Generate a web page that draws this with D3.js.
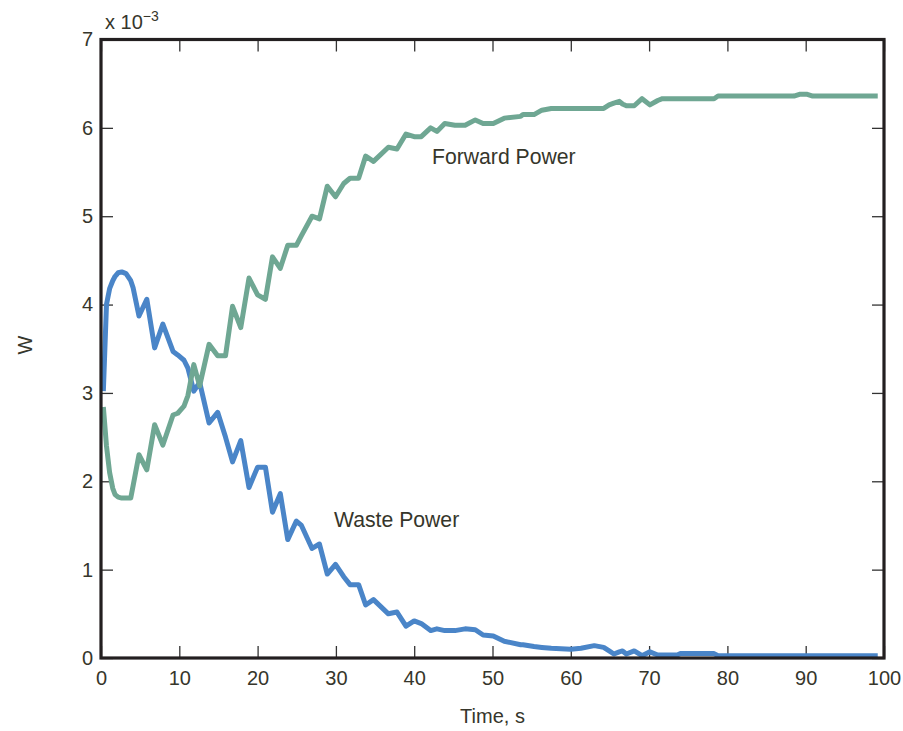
<!DOCTYPE html>
<html>
<head>
<meta charset="utf-8">
<script src="https://cdn.jsdelivr.net/npm/d3@7"></script>
<style>
  body { margin: 0; background: #fff; }
  text { font-family: "Liberation Sans", Arial, Helvetica, sans-serif; fill: #36362b; }
</style>
</head>
<body>
<div id="chart"></div>
<script>
// sample times (s) shared by both series
const time = [0.3, 0.7, 1.1, 1.5, 1.8, 2.2, 2.65, 3.2, 3.8, 4.1, 4.85, 5.85, 6.85, 7.9, 9.2, 9.8,
  10.6, 11.1, 11.85, 12.6, 13.8, 14.9, 15.9, 16.8, 17.85, 18.9, 20.0, 21.0, 21.9, 22.9, 23.85,
  24.95, 25.6, 26.95, 27.9, 28.9, 29.95, 31.0, 31.8, 32.9, 33.8, 34.8, 36.7, 37.8, 38.95, 40.0,
  40.9, 42.1, 42.9, 43.9, 45.2, 46.5, 47.8, 48.8, 50.1, 51.5, 53.6, 53.9, 55.3, 56.3, 57.5, 60.0,
  61.3, 63.0, 64.2, 64.9, 65.5, 66.2, 66.6, 67.1, 68.1, 69.1, 70.1, 71.1, 71.7, 73.6, 74.0, 78.3,
  78.8, 88.5, 89.2, 90.2, 90.9, 99.2];

// values in units of 1e-3 W
const forwardPower = [2.84, 2.40, 2.10, 1.92, 1.85, 1.82, 1.81, 1.81, 1.81, 1.95, 2.30, 2.13, 2.64, 2.41, 2.75, 2.77,
  2.85, 2.97, 3.32, 3.08, 3.55, 3.42, 3.42, 3.98, 3.74, 4.30, 4.11, 4.06, 4.54, 4.41, 4.67,
  4.67, 4.78, 5.00, 4.97, 5.34, 5.22, 5.37, 5.43, 5.43, 5.68, 5.62, 5.78, 5.76, 5.93, 5.90,
  5.90, 6.00, 5.96, 6.05, 6.03, 6.03, 6.09, 6.05, 6.05, 6.11, 6.13, 6.15, 6.15, 6.20, 6.22, 6.22,
  6.22, 6.22, 6.22, 6.26, 6.28, 6.30, 6.27, 6.25, 6.25, 6.33, 6.26, 6.31, 6.33, 6.33, 6.33, 6.33,
  6.36, 6.36, 6.38, 6.38, 6.36, 6.36];

const wastePower = [3.02, 4.00, 4.18, 4.27, 4.32, 4.36, 4.37, 4.35, 4.27, 4.19, 3.87, 4.06, 3.51, 3.78, 3.47, 3.43,
  3.37, 3.28, 3.02, 3.12, 2.66, 2.78, 2.50, 2.22, 2.46, 1.93, 2.16, 2.16, 1.65, 1.86, 1.34,
  1.55, 1.50, 1.24, 1.29, 0.95, 1.06, 0.92, 0.83, 0.83, 0.60, 0.66, 0.50, 0.52, 0.36, 0.42,
  0.39, 0.31, 0.33, 0.31, 0.31, 0.33, 0.32, 0.26, 0.25, 0.19, 0.15, 0.15, 0.13, 0.12, 0.11, 0.10,
  0.11, 0.14, 0.12, 0.08, 0.045, 0.07, 0.08, 0.045, 0.08, 0.026, 0.07, 0.034, 0.034, 0.034, 0.05, 0.05,
  0.026, 0.026, 0.026, 0.026, 0.026, 0.026];

const xTicks = [0, 10, 20, 30, 40, 50, 60, 70, 80, 90, 100];
const yTicks = [0, 1, 2, 3, 4, 5, 6, 7];

const width = 903, height = 731;
const plot = {left: 101, right: 884, top: 39.5, bottom: 658};

const svg = d3.select("#chart").append("svg")
  .attr("width", width)
  .attr("height", height);

const x = d3.scaleLinear().domain([0, 100]).range([plot.left, plot.right]);
const y = d3.scaleLinear().domain([0, 7]).range([plot.bottom, plot.top]);

// ticks (inward on all four sides)
svg.append("g")
  .attr("transform", `translate(0,${plot.bottom})`)
  .call(d3.axisBottom(x).tickValues(xTicks).tickFormat(d3.format("d")).tickSize(-12).tickPadding(13))
  .call(g => g.selectAll("text").attr("font-size", 20));
svg.append("g")
  .attr("transform", `translate(0,${plot.top})`)
  .call(d3.axisTop(x).tickValues(xTicks).tickSize(-12).tickFormat(""));
svg.append("g")
  .attr("transform", `translate(${plot.left},0)`)
  .call(d3.axisLeft(y).tickValues(yTicks).tickFormat(d3.format("d")).tickSize(-12).tickPadding(8))
  .call(g => g.selectAll("text").attr("font-size", 20));
svg.append("g")
  .attr("transform", `translate(${plot.right},0)`)
  .call(d3.axisRight(y).tickValues(yTicks).tickSize(-12).tickFormat(""));

svg.selectAll(".domain").remove();
svg.selectAll(".tick line").attr("stroke", "#333").attr("stroke-width", 1.3);
svg.selectAll(".tick text").style("font-family", '"Liberation Sans", Arial, sans-serif').attr("fill", "#36362b");

// curves
const line = d3.line()
  .x((d, i) => x(time[i]))
  .y(d => y(d));

svg.append("path")
  .datum(wastePower)
  .attr("fill", "none")
  .attr("stroke", "#4a85c8")
  .attr("stroke-width", 5)
  .attr("stroke-linejoin", "round")
  .attr("d", line);

svg.append("path")
  .datum(forwardPower)
  .attr("fill", "none")
  .attr("stroke", "#6fa793")
  .attr("stroke-width", 5)
  .attr("stroke-linejoin", "round")
  .attr("d", line);

// frame
svg.append("rect")
  .attr("x", plot.left)
  .attr("y", plot.top)
  .attr("width", plot.right - plot.left)
  .attr("height", plot.bottom - plot.top)
  .attr("fill", "none")
  .attr("stroke", "#231f20")
  .attr("stroke-width", 3.2);

// scale factor label
const exp = svg.append("text")
  .attr("x", 105)
  .attr("y", 29)
  .attr("font-size", 20);
exp.append("tspan").text("x 10");
exp.append("tspan").attr("dy", -8).attr("font-size", 14).text("\u22123");

// annotations
svg.append("text")
  .attr("x", 432)
  .attr("y", 164)
  .attr("font-size", 21.2)
  .text("Forward Power");

svg.append("text")
  .attr("x", 334)
  .attr("y", 527)
  .attr("font-size", 21.2)
  .text("Waste Power");

// axis titles
svg.append("text")
  .attr("x", (plot.left + plot.right) / 2)
  .attr("y", 723)
  .attr("text-anchor", "middle")
  .attr("font-size", 20)
  .text("Time, s");

svg.append("text")
  .attr("transform", "translate(32,345) rotate(-90)")
  .attr("text-anchor", "middle")
  .attr("font-size", 20)
  .text("W");
</script>
</body>
</html>
